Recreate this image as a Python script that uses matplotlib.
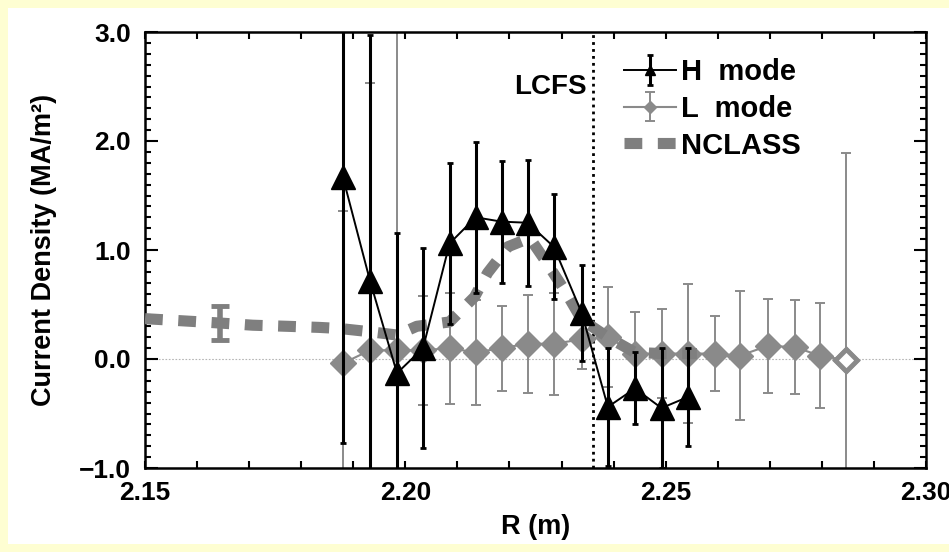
import matplotlib
matplotlib.use('Agg')
import matplotlib.pyplot as plt
from matplotlib.ticker import MultipleLocator, FuncFormatter
from matplotlib.patches import Rectangle

plt.rcParams['font.family'] = ['Liberation Sans', 'DejaVu Sans']
plt.rcParams['font.weight'] = 'bold'
plt.rcParams['axes.labelweight'] = 'bold'

# H mode (black triangles)
h_r = [2.1880, 2.1932, 2.1984, 2.2034, 2.2085, 2.2135, 2.2185, 2.2235, 2.2285,
       2.2339, 2.2389, 2.2441, 2.2492, 2.2542]
h_j = [1.67, 0.72, -0.13, 0.10, 1.06, 1.30, 1.26, 1.25, 1.03,
       0.42, -0.44, -0.27, -0.45, -0.35]
h_err = [2.44, 2.25, 1.29, 0.92, 0.74, 0.69, 0.56, 0.58, 0.48,
         0.44, 0.54, 0.33, 0.55, 0.45]

# L mode (grey diamonds), last point drawn open
l_r = [2.1880, 2.1932, 2.1984, 2.2034, 2.2085, 2.2135, 2.2185, 2.2235, 2.2285,
       2.2339, 2.2389, 2.2441, 2.2492, 2.2542, 2.2594, 2.2642, 2.2696, 2.2748,
       2.2796, 2.2847]
l_j = [-0.04, 0.08, 0.08, 0.08, 0.10, 0.06, 0.10, 0.14, 0.14,
       0.18, 0.20, 0.05, 0.05, 0.05, 0.05, 0.03, 0.12, 0.11,
       0.03, -0.01]
l_err = [1.40, 2.45, 4.50, 0.50, 0.51, 0.48, 0.39, 0.45, 0.47,
         0.27, 0.46, 0.38, 0.41, 0.64, 0.34, 0.59, 0.43, 0.43,
         0.48, 1.90]

# NCLASS prediction
n_r = [2.1500, 2.1573, 2.1644, 2.1707, 2.1773, 2.1834, 2.1874, 2.1932, 2.1984,
       2.2022, 2.2085, 2.2133, 2.2158, 2.2197, 2.2239, 2.2272, 2.2306, 2.2339,
       2.2389, 2.2441, 2.2492, 2.2560]
n_j = [0.37, 0.35, 0.33, 0.31, 0.30, 0.29, 0.28, 0.25, 0.22,
       0.30, 0.34, 0.57, 0.79, 1.03, 1.11, 0.88, 0.63, 0.36,
       0.20, 0.06, 0.05, 0.05]
n_err_r = [2.1644]
n_err_j = [0.33]
n_err = [0.16]

lcfs_r = 2.236

black = 'black'
lgrey = '#8a8a8a'
ngrey = '#7f7f7f'

fig = plt.figure(figsize=(9.49, 5.52), dpi=100)
fig.patch.set_facecolor('#fefed2')
fig.patches.append(Rectangle((0.008, 0.014), 0.992, 0.972, transform=fig.transFigure,
                             facecolor='white', edgecolor='none', zorder=-10))
ax = fig.add_axes([145 / 949, 1 - 468 / 552, 781 / 949, 436 / 552])
ax.set_facecolor('none')

ax.axhline(0, color='#b5b5b5', lw=0.8, ls=(0, (1.5, 1.5)), zorder=1)

l_cont = ax.errorbar(l_r, l_j, yerr=l_err, fmt='-D', color=lgrey, ms=13, lw=1.5,
                     elinewidth=1.4, capsize=3.5, capthick=1.4, zorder=2)
ax.plot(l_r[-1:], l_j[-1:], 'D', mfc='white', mec=lgrey, mew=3.5, ms=11, zorder=2.5)

n_line, = ax.plot(n_r, n_j, color=ngrey, lw=8, dashes=(1.6, 1.4),
                  dash_capstyle='butt', zorder=3)
ax.errorbar(n_err_r, n_err_j, yerr=n_err, fmt='none', ecolor=ngrey, elinewidth=4,
            capsize=6.5, capthick=3.5, zorder=3)

h_cont = ax.errorbar(h_r, h_j, yerr=h_err, fmt='-^', color=black, ms=17, lw=1.4,
                     elinewidth=2.2, capsize=2.5, capthick=2, zorder=4)

ax.axvline(lcfs_r, color=black, lw=2, ls=(0, (1, 1.5)), zorder=1.5)
ax.text(lcfs_r - 0.0012, 2.5, 'LCFS', ha='right', va='center', fontsize=20)

ax.legend([h_cont, l_cont, n_line], ['H  mode', 'L  mode', 'NCLASS'],
          loc='upper left', bbox_to_anchor=(0.613, 0.94), frameon=False, fontsize=21,
          markerscale=0.45, handlelength=1.8, handletextpad=0.15, labelspacing=0.3,
          borderaxespad=0, borderpad=0)

ax.set_xlim(2.15, 2.30)
ax.set_ylim(-1, 3)
ax.xaxis.set_major_locator(MultipleLocator(0.05))
ax.xaxis.set_minor_locator(MultipleLocator(0.01))
ax.yaxis.set_major_locator(MultipleLocator(1.0))
ax.yaxis.set_minor_locator(MultipleLocator(0.1))
ax.xaxis.set_major_formatter(FuncFormatter(lambda v, p: f'{v:.2f}'))
ax.yaxis.set_major_formatter(FuncFormatter(lambda v, p: f'{v:.1f}'.replace('-', '\u2212')))
ax.tick_params(which='both', direction='in', top=True, right=True, width=1.5,
               labelsize=19)
ax.tick_params(axis='y', which='major', length=9, pad=10)
ax.tick_params(axis='y', which='minor', length=4.5)
ax.tick_params(axis='x', which='both', length=5, pad=9)
for s in ax.spines.values():
    s.set_linewidth(1.8)

ax.set_ylabel('Current Density (MA/m²)', fontsize=19.5)
ax.yaxis.set_label_coords(-0.1127, 0.5)
ax.set_xlabel('R (m)', fontsize=19.5)
ax.xaxis.set_label_coords(0.5, -0.105)

fig.savefig('out.png', dpi=100, facecolor=fig.get_facecolor())
